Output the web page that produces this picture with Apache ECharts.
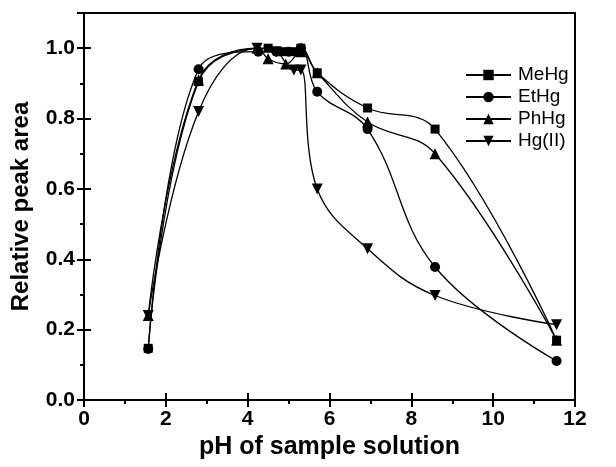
<!DOCTYPE html>
<html>
<head>
<meta charset="utf-8">
<script src="https://cdn.jsdelivr.net/npm/echarts@6/dist/echarts.min.js"></script>
<style>html,body{margin:0;padding:0;background:#fff;}#c{width:616px;height:467px;}</style>
</head>
<body>
<div id="c"></div>
<script>
const seriesNames = ['MeHg', 'EtHg', 'PhHg', 'Hg(II)'];
const phMeHg = [1.57, 2.8, 4.5, 4.85, 5.1, 5.3, 5.7, 6.93, 8.58, 11.55];
const valMeHg = [0.147, 0.905, 1.0, 0.99, 0.99, 1.0, 0.93, 0.83, 0.77, 0.17];
const phEtHg = [1.57, 2.8, 4.26, 4.7, 5.0, 5.3, 5.7, 6.93, 8.58, 11.55];
const valEtHg = [0.145, 0.94, 0.99, 0.99, 0.99, 1.0, 0.876, 0.77, 0.378, 0.111];
const phPhHg = [1.57, 2.8, 4.23, 4.5, 4.93, 5.3, 5.7, 6.93, 8.58, 11.55];
const valPhHg = [0.24, 0.91, 1.0, 0.97, 0.955, 0.99, 0.93, 0.79, 0.70, 0.17];
const phHg2 = [1.57, 2.8, 4.23, 4.7, 5.13, 5.3, 5.7, 6.93, 8.58, 11.55];
const valHg2 = [0.24, 0.82, 1.0, 0.99, 0.938, 0.938, 0.60, 0.43, 0.297, 0.214];
const xTicks = [0, 2, 4, 6, 8, 10, 12];
const yTicks = [0.0, 0.2, 0.4, 0.6, 0.8, 1.0];

const phs = [phMeHg, phEtHg, phPhHg, phHg2];
const vals = [valMeHg, valEtHg, valPhHg, valHg2];
const symbols = ['rect', 'circle', 'triangle', 'triangle'];
const rotates = [0, 0, 0, 180];
const sizes = [9, 10, 11, 11];

const font = '"Liberation Sans", Arial, sans-serif';
const chart = echarts.init(document.getElementById('c'), null, {renderer: 'canvas'});

const series = seriesNames.map((n, i) => ({
  name: n,
  type: 'line',
  smooth: 0.4,
  data: phs[i].map((x, j) => [x, vals[i][j]]),
  symbol: symbols[i],
  symbolRotate: rotates[i],
  symbolSize: sizes[i],
  showSymbol: true,
  lineStyle: {color: '#000', width: 1.3},
  itemStyle: {color: '#000'},
  z: 3
}));

const axisCommonX = {type: 'value', min: 0, max: 12, interval: 2};
const axisCommonY = {type: 'value', min: 0, max: 1.1, interval: 0.2};
chart.setOption({
  animation: false,
  backgroundColor: '#fff',
  grid: {left: 84, right: 41, top: 13, bottom: 67, show: true, borderColor: '#000', borderWidth: 2},
  legend: {
    data: seriesNames,
    orient: 'vertical',
    left: 460, top: 60,
    itemWidth: 45, itemHeight: 13, itemGap: 2,
    textStyle: {fontFamily: font, fontSize: 19, color: '#000', lineHeight: 20, padding: [0, 0, 0, 2]}
  },
  xAxis: [
    Object.assign({}, axisCommonX, {
      name: 'pH of sample solution', nameLocation: 'middle', nameGap: 33,
      nameTextStyle: {fontFamily: font, fontSize: 25, fontWeight: 'bold', color: '#000'},
      axisLine: {show: true, lineStyle: {color: '#000', width: 2}},
      axisTick: {show: true, length: 7, lineStyle: {color: '#000', width: 2}},
      minorTick: {show: true, splitNumber: 2, length: 4, lineStyle: {color: '#000', width: 2}},
      splitLine: {show: false},
      axisLabel: {fontFamily: font, fontSize: 21, fontWeight: 'bold', color: '#000', margin: 9,
        formatter: v => xTicks.includes(v) ? String(v) : ''}
    }),
    Object.assign({}, axisCommonX, {
      position: 'bottom',
      axisLine: {show: false},
      axisTick: {show: true, inside: true, length: 7, lineStyle: {color: '#000', width: 2}},
      axisLabel: {show: false}, splitLine: {show: false}
    })
  ],
  yAxis: [
    Object.assign({}, axisCommonY, {
      name: 'Relative peak area', nameLocation: 'middle', nameGap: 51,
      nameTextStyle: {fontFamily: font, fontSize: 24, fontWeight: 'bold', color: '#000'},
      axisLine: {show: true, lineStyle: {color: '#000', width: 2}},
      axisTick: {show: true, length: 7, lineStyle: {color: '#000', width: 2}},
      minorTick: {show: true, splitNumber: 2, length: 4, lineStyle: {color: '#000', width: 2}},
      splitLine: {show: false},
      axisLabel: {fontFamily: font, fontSize: 21, fontWeight: 'bold', color: '#000', margin: 9,
        formatter: v => yTicks.some(t => Math.abs(t - v) < 1e-9) ? v.toFixed(1) : '',
        showMaxLabel: false}
    }),
    Object.assign({}, axisCommonY, {
      position: 'left',
      axisLine: {show: false},
      axisTick: {show: true, inside: true, length: 7, lineStyle: {color: '#000', width: 2}},
      axisLabel: {show: false}, splitLine: {show: false}
    })
  ],
  series: series
});
</script>
</body>
</html>
